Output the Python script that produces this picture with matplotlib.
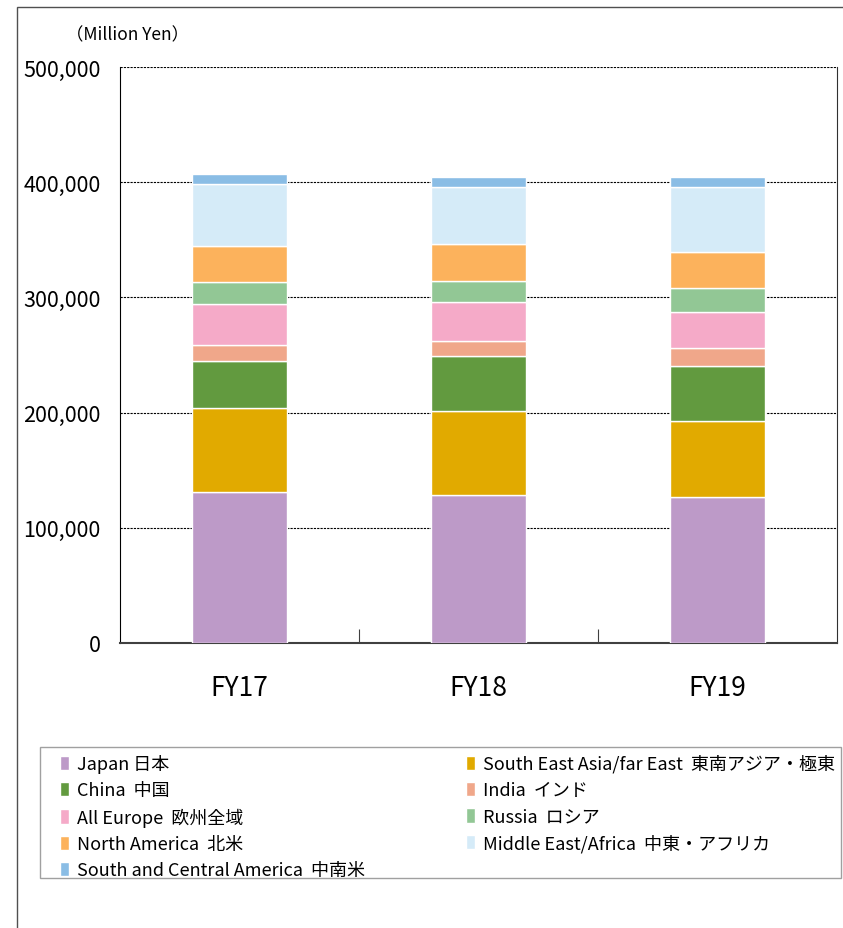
import matplotlib.pyplot as plt
import numpy as np
from matplotlib.patches import Rectangle

plt.rcParams['font.family'] = ['Noto Sans CJK JP', 'DejaVu Sans']

years = ['FY17', 'FY18', 'FY19']
regions = ['Japan 日本', 'South East Asia/far East  東南アジア・極東', 'China  中国',
           'India  インド', 'All Europe  欧州全域', 'Russia  ロシア',
           'North America  北米', 'Middle East/Africa  中東・アフリカ',
           'South and Central America  中南米']
colors = ['#BD9AC8', '#E1AA00', '#629A3F', '#F0A78A', '#F5AAC8', '#92C795',
          '#FCB25C', '#D5EBF8', '#8ABDE5']

japan = [131000, 128500, 126500]
sea = [73000, 72900, 65900]
china = [41000, 47700, 48100]
india = [14000, 12800, 15300]
europe = [35000, 34400, 31800]
russia = [19500, 17700, 20600]
north_america = [31300, 32100, 31500]
mid_east_africa = [53800, 49500, 55900]
south_central_america = [8600, 8700, 8700]

series = [japan, sea, china, india, europe, russia, north_america,
          mid_east_africa, south_central_america]

fig = plt.figure(figsize=(8.43, 9.29), dpi=100)
ax = fig.add_axes([120/843, 1-644/929, (837-120)/843, (644-68)/929])

x = np.arange(len(years))
bottom = np.zeros(len(years))
handles = []
for vals, lab, col in zip(series, regions, colors):
    b = ax.bar(x, vals, 0.4, bottom=bottom, color=col, edgecolor='white',
               linewidth=1, label=lab, zorder=3)
    handles.append(b)
    bottom += np.array(vals)

ax.set_xlim(-0.5, 2.5)
ax.set_ylim(0, 500000)
ax.set_yticks(np.arange(0, 500001, 100000))
ax.set_yticklabels([f'{v:,}' for v in range(0, 500001, 100000)], fontsize=15.5)
ax.set_xticks(x)
ax.set_xticklabels(years, fontsize=19)
ax.set_xticks([0.5, 1.5], minor=True)
ax.tick_params(axis='x', which='major', length=0, pad=22)
ax.tick_params(axis='x', which='minor', direction='in', length=10, width=0.8, color='#404040')
ax.tick_params(axis='y', length=0, pad=14)
ax.grid(axis='y', color='black', linestyle=(0, (2, 1)), linewidth=0.8, zorder=0)
ax.spines['top'].set_visible(False)
ax.spines['left'].set_color('black')
ax.spines['right'].set_color('#303030')
ax.spines['bottom'].set_color('#404040')
ax.spines['bottom'].set_linewidth(1.5)

fig.text(66/843, 1-35/929, '（Million Yen）', fontsize=12.5, va='center', ha='left')

# outer frame
fig.patches.append(Rectangle((17/843, -0.1), 2, 1-8/929+0.1, transform=fig.transFigure,
                             fill=False, edgecolor='#505050', linewidth=1))
# legend frame
fig.patches.append(Rectangle((40/843, 1-879/929), 801/843, 131/929, transform=fig.transFigure,
                             fill=False, edgecolor='#a0a0a0', linewidth=1))

order = [0, 2, 4, 6, 8, 1, 3, 5, 7]
leg = fig.legend([handles[i] for i in order], [regions[i] for i in order],
                 loc='upper left', bbox_to_anchor=(60/843, 1-755/929), ncol=2,
                 fontsize=13, frameon=False,
                 handlelength=0.48, handleheight=0.85, handletextpad=0.45,
                 labelspacing=0.46, columnspacing=5.6, borderpad=0,
                 borderaxespad=0)

plt.savefig('out.png', dpi=100)
